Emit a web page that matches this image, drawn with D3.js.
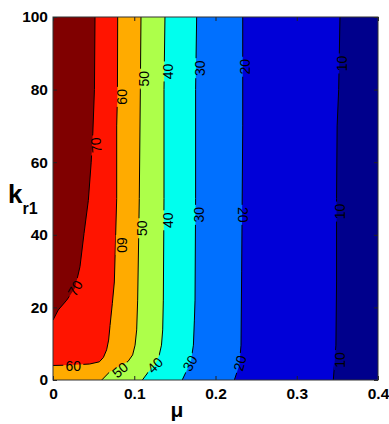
<!DOCTYPE html>
<html><head><meta charset="utf-8">
<script src="https://cdn.jsdelivr.net/npm/d3@7"></script>
<style>
html,body{margin:0;padding:0;background:#fff;}
svg{display:block;}
text{font-family:"Liberation Sans",Arial,sans-serif;}
</style></head>
<body>
<script>
// ---- data ----
const levels = [10, 20, 30, 40, 50, 60, 70];
// contour lines (mu, k_r1), top to bottom
const c10 = [[0.3532,100],[0.3516,80],[0.3497,70],[0.349,50],[0.349,27],[0.3482,9.6],[0.345,0]];
const c20 = [[0.2335,100],[0.2335,70],[0.2322,30],[0.2314,9.6],[0.2293,4.1],[0.2232,0]];
const c30 = [[0.1768,100],[0.1755,80],[0.1755,50],[0.1748,22],[0.174,16.5],[0.1728,9.6],[0.170,5.5],[0.1637,2.2],[0.159,0]];
const c40 = [[0.1378,100],[0.1366,80],[0.1366,50],[0.1358,22],[0.135,13.8],[0.1335,9.6],[0.1308,6.9],[0.1255,4.1],[0.1173,2.2],[0.110,0]];
const c50 = [[0.1083,100],[0.1075,80],[0.1062,50],[0.1055,40],[0.1042,22],[0.1030,13.8],[0.101,9.6],[0.098,6.9],[0.0923,5.1],[0.0825,3.9],[0.070,2.3],[0.060,0]];
const c60 = [[0.0796,100],[0.0793,78],[0.0784,70],[0.0784,50],[0.0772,40.5],[0.0755,27],[0.073,21],[0.0702,15],[0.0685,11],[0.066,8.3],[0.062,6.2],[0.057,5.0],[0.045,4.4],[0.02,4.1],[0,4.0]];
const c70 = [[0.0517,100],[0.0510,80],[0.0490,68],[0.0470,60],[0.0435,49.5],[0.0382,40.4],[0.0332,31.2],[0.0270,25.3],[0.0169,22],[0.0065,19.3],[0,16.5]];
const contourLines = [c10, c20, c30, c40, c50, c60, c70];
const bandColors = ["#00008c", "#0000d8", "#0070ff", "#00ffee", "#adff4a", "#ffab00", "#ff1400", "#800000"];

const labelText = ["70","70","60","60","60","50","50","50","40","40","40","30","30","30","20","20","20","10","10","10"];
const labelMu   = [0.0529,0.0271,0.0845,0.0845,0.025,0.112,0.109,0.0825,0.142,0.142,0.1255,0.181,0.180,0.1686,0.236,0.2335,0.230,0.3553,0.3532,0.3532];
const labelK    = [64.7,25.3,78,37.2,3.9,83,41.8,2.8,85,44,4.1,85.9,45.5,4.6,86.3,45.5,4.6,87.2,46.4,5.5];
const labelAngle= [-95,-60,-90,90,0,-90,-90,-40,-90,-90,-45,-90,-90,-60,-90,90,-75,-90,-90,-90];

const xTicks = [0, 0.1, 0.2, 0.3, 0.4];
const xTickLabels = ["0", "0.1", "0.2", "0.3", "0.4"];
const yTicks = [0, 20, 40, 60, 80, 100];
const yTickLabels = ["0", "20", "40", "60", "80", "100"];

// ---- drawing ----
const W = 389, H = 424;
const x = d3.scaleLinear().domain([0, 0.4]).range([53, 378]);
const y = d3.scaleLinear().domain([0, 100]).range([380, 17]);

const svg = d3.select("body").append("svg").attr("width", W).attr("height", H);

svg.append("clipPath").attr("id", "clip").append("rect")
  .attr("x", x(0)).attr("y", y(100)).attr("width", x(0.4) - x(0)).attr("height", y(0) - y(100));

const plot = svg.append("g").attr("clip-path", "url(#clip)");

// base band (below lowest level)
plot.append("rect").attr("x", x(0)).attr("y", y(100))
  .attr("width", x(0.4) - x(0)).attr("height", y(0) - y(100))
  .attr("fill", bandColors[0]);

const line = d3.line().x(d => x(d[0])).y(d => y(d[1]));

contourLines.forEach((pts, i) => {
  const poly = pts.slice();
  const last = pts[pts.length - 1];
  if (last[1] === 0) poly.push([0, 0]);
  poly.push([0, 100]);
  plot.append("path").attr("d", line(poly) + "Z").attr("fill", bandColors[i + 1]);
});

// mask to break lines at labels
const labels = labelText.map((t, i) => ({t, mu: labelMu[i], k: labelK[i], a: labelAngle[i]}));
const mask = svg.append("mask").attr("id", "lblmask").attr("maskUnits", "userSpaceOnUse")
  .attr("x", 0).attr("y", 0).attr("width", W).attr("height", H);
mask.append("rect").attr("x", 0).attr("y", 0).attr("width", W).attr("height", H).attr("fill", "#fff");
labels.forEach(l => {
  mask.append("rect")
    .attr("x", -10).attr("y", -6).attr("width", 20).attr("height", 12)
    .attr("fill", "#000")
    .attr("transform", `translate(${x(l.mu)},${y(l.k)}) rotate(${l.a})`);
});

const lines = plot.append("g").attr("mask", "url(#lblmask)");
contourLines.forEach(pts => {
  lines.append("path").attr("d", line(pts)).attr("fill", "none")
    .attr("stroke", "#000").attr("stroke-width", 1);
});

labels.forEach(l => {
  plot.append("text")
    .attr("transform", `translate(${x(l.mu)},${y(l.k)}) rotate(${l.a})`)
    .attr("text-anchor", "middle").attr("dy", "0.36em")
    .attr("font-size", 14).attr("fill", "#000").text(l.t);
});

// axes (ticks inward)
const xAxis = d3.axisBottom(x).tickValues(xTicks).tickFormat((d, i) => xTickLabels[i])
  .tickSizeInner(-4).tickSizeOuter(0).tickPadding(8);
const gx = svg.append("g").attr("transform", `translate(0,${y(0)})`).call(xAxis);
const yAxis = d3.axisLeft(y).tickValues(yTicks).tickFormat((d, i) => yTickLabels[i])
  .tickSizeInner(-4).tickSizeOuter(0).tickPadding(5);
const gy = svg.append("g").attr("transform", `translate(${x(0)},0)`).call(yAxis);
const xTop = d3.axisTop(x).tickValues(xTicks).tickFormat("").tickSizeInner(-4).tickSizeOuter(0);
const gxt = svg.append("g").attr("transform", `translate(0,${y(100)})`).call(xTop);
const yRight = d3.axisRight(y).tickValues(yTicks).tickFormat("").tickSizeInner(-4).tickSizeOuter(0);
const gyr = svg.append("g").attr("transform", `translate(${x(0.4)},0)`).call(yRight);
[gx, gy, gxt, gyr].forEach(g => {
  g.select(".domain").remove();
  g.selectAll("line").attr("stroke", "#222");
  g.selectAll("text").attr("font-size", 15.5).attr("font-weight", "bold")
    .attr("fill", "#000").attr("font-family", "'Liberation Sans',Arial,sans-serif");
});

svg.append("rect").attr("x", x(0)).attr("y", y(100))
  .attr("width", x(0.4) - x(0)).attr("height", y(0) - y(100))
  .attr("fill", "none").attr("stroke", "#333").attr("stroke-width", 1);

// axis titles
const kl = svg.append("text").attr("x", 8).attr("y", 203)
  .attr("font-weight", "bold").attr("fill", "#000");
kl.append("tspan").attr("font-size", 26).text("k");
kl.append("tspan").attr("font-size", 16).attr("dy", 11).text("r1");

svg.append("text").attr("x", 177).attr("y", 417).attr("text-anchor", "middle")
  .attr("font-weight", "bold").attr("font-size", 21).attr("fill", "#000").text("μ");
</script>
</body></html>
